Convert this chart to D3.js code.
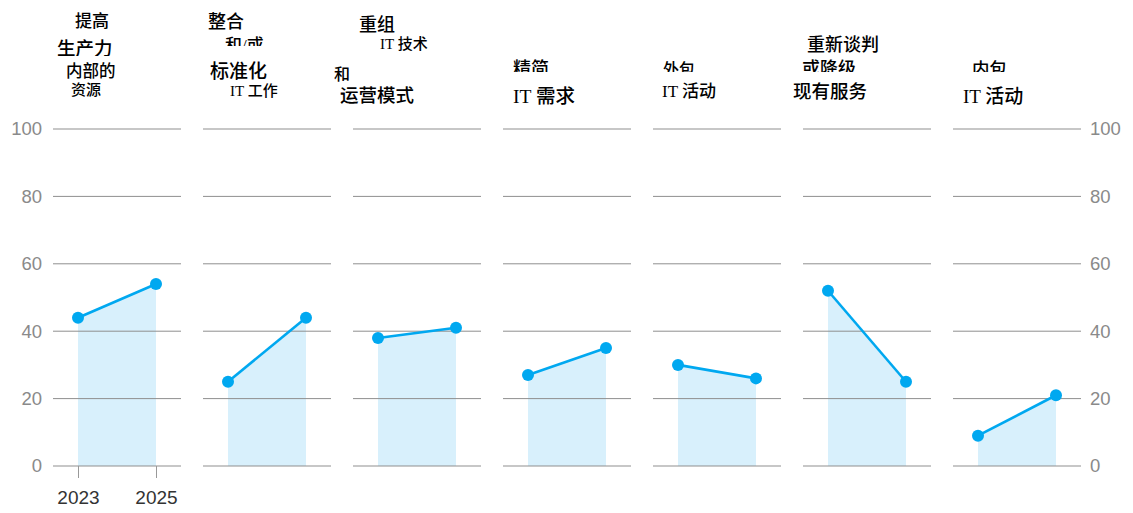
<!DOCTYPE html>
<html>
<head>
<meta charset="utf-8">
<script src="https://cdn.jsdelivr.net/npm/d3@7"></script>
<style>
  html, body { margin: 0; padding: 0; background: #fff; }
  svg { display: block; }
</style>
</head>
<body>
<svg id="chart" width="1133" height="513"></svg>
<script>
// Share of organisations (%) taking each IT cost measure, 2023 vs 2025
const categories = [
  "提高内部的资源生产力",
  "整合和/或标准化IT工作",
  "重组IT技术和运营模式",
  "精简IT需求",
  "外包IT活动",
  "重新谈判或降级现有服务",
  "内包IT活动"
];
const years = ["2023", "2025"];
const values2023 = [44, 25, 38, 27, 30, 52, 9];
const values2025 = [54, 44, 41, 35, 26, 25, 21];
const yTicks = [0, 20, 40, 60, 80, 100];

// Header lines of each panel title
const titleLines = [
  ["提高", "生产力", "内部的", "资源"],
  ["整合", "和/或", "标准化", "IT 工作"],
  ["重组", "IT 技术", "和", "运营模式"],
  ["精简", "IT 需求"],
  ["外包", "IT 活动"],
  ["重新谈判", "或降级", "现有服务"],
  ["内包", "IT 活动"]
];

// Typesetting of the title lines: x, baseline, font size, optional clip bottom
const titleLayout = [
  [{x: 75, y: 27, s: 17}, {x: 57, y: 55, s: 18.5, cb: 56}, {x: 66, y: 77, s: 16.5}, {x: 71, y: 95, s: 15}],
  [{x: 208, y: 28, s: 18}, {x: 225, y: 51, s: 17, cb: 46}, {x: 210, y: 78, s: 19}, {x: 230, y: 96, s: 15}],
  [{x: 359, y: 31, s: 18}, {x: 380, y: 49, s: 15}, {x: 334, y: 80, s: 16}, {x: 340, y: 102, s: 18.5}],
  [{x: 513, y: 75, s: 18, cb: 72}, {x: 513, y: 103, s: 19.5}],
  [{x: 663, y: 75, s: 16, cb: 72}, {x: 662, y: 97, s: 17}],
  [{x: 807, y: 51, s: 18}, {x: 802, y: 75, s: 18, cb: 72}, {x: 793, y: 98, s: 18.5}],
  [{x: 972, y: 75, s: 17.5, cb: 72}, {x: 963, y: 103, s: 19}]
];

const svg = d3.select("#chart");
const defs = svg.append("defs");

const panel = d3.scaleBand()
  .domain(categories)
  .range([53, 1081])
  .paddingInner(22 / 150)
  .paddingOuter(0);

const xIn = d3.scalePoint()
  .domain(years)
  .range([25, 103]);

const y = d3.scaleLinear()
  .domain([0, 100])
  .range([466, 129]);

const lineColor = "#00a8f0";
const areaColor = "#d8f0fc";
const gridColor = "#8f8f8f";

const data = categories.map((c, i) => ({
  cat: c,
  i,
  pts: [
    {year: years[0], v: values2023[i]},
    {year: years[1], v: values2025[i]}
  ]
}));

// Panels
const panels = svg.append("g").selectAll("g.panel")
  .data(data)
  .join("g")
  .attr("class", "panel")
  .attr("transform", d => `translate(${panel(d.cat)},0)`);

// Shaded area under each line
const area = d3.area()
  .x(p => xIn(p.year))
  .y0(y(0))
  .y1(p => y(p.v));

panels.append("path")
  .attr("d", d => area(d.pts))
  .attr("fill", areaColor);

// Horizontal gridlines per panel
panels.each(function() {
  d3.select(this).selectAll("line.grid")
    .data(yTicks)
    .join("line")
    .attr("class", "grid")
    .attr("x1", 0)
    .attr("x2", panel.bandwidth())
    .attr("y1", t => y(t))
    .attr("y2", t => y(t))
    .attr("stroke", gridColor)
    .attr("stroke-width", 1);
});

// Lines and dots
const line = d3.line()
  .x(p => xIn(p.year))
  .y(p => y(p.v));

panels.append("path")
  .attr("d", d => line(d.pts))
  .attr("fill", "none")
  .attr("stroke", lineColor)
  .attr("stroke-width", 2.6);

panels.selectAll("circle")
  .data(d => d.pts)
  .join("circle")
  .attr("cx", p => xIn(p.year))
  .attr("cy", p => y(p.v))
  .attr("r", 6)
  .attr("fill", lineColor);

// Y axes on both sides
const axisFont = "'Liberation Sans', Arial, sans-serif";
const leftAxis = svg.append("g")
  .attr("transform", "translate(49,0)")
  .call(d3.axisLeft(y).tickValues(yTicks).tickSize(0).tickPadding(7));
const rightAxis = svg.append("g")
  .attr("transform", "translate(1083,0)")
  .call(d3.axisRight(y).tickValues(yTicks).tickSize(0).tickPadding(7));
[leftAxis, rightAxis].forEach(ax => {
  ax.select(".domain").remove();
  ax.selectAll("text")
    .attr("fill", "#8a8a8a")
    .style("font-family", axisFont)
    .style("font-size", "18.5px");
});

// Year axis under the first panel
const firstCat = categories[0];
const xAxis = svg.append("g")
  .attr("transform", `translate(${panel(firstCat)},${y(0)})`)
  .call(d3.axisBottom(xIn).tickSize(12).tickPadding(13));
xAxis.select(".domain").remove();
xAxis.selectAll("line").attr("stroke", "#999");
xAxis.selectAll("text")
  .attr("fill", "#333")
  .style("font-family", axisFont)
  .style("font-size", "19px");

// Panel titles
const titleFont = "'Liberation Serif', 'Noto Sans CJK SC', serif";
const titles = svg.append("g");
titleLines.forEach((lines, i) => {
  lines.forEach((txt, j) => {
    const L = titleLayout[i][j];
    const t = titles.append("text")
      .attr("x", L.x)
      .attr("y", L.y)
      .attr("fill", "#000")
      .style("font-family", titleFont)
      .style("font-weight", 500)
      .style("font-size", L.s + "px")
      .text(txt);
    if (L.cb !== undefined) {
      const id = `clip-${i}-${j}`;
      defs.append("clipPath").attr("id", id)
        .append("rect")
        .attr("x", L.x - 5).attr("y", 0)
        .attr("width", 200).attr("height", L.cb);
      t.attr("clip-path", `url(#${id})`);
    }
  });
});
</script>
</body>
</html>
